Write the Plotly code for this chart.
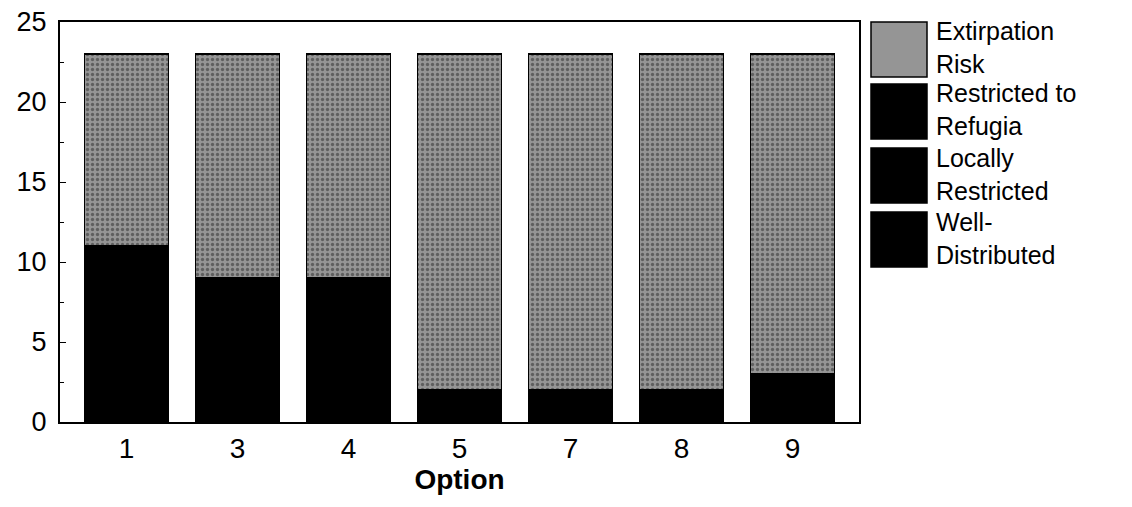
import plotly.graph_objects as go

# options on the x axis
options = ["1", "3", "4", "5", "7", "8", "9"]

# species counts per outcome class (the three lower classes are all drawn black
# in the source and cannot be told apart, so the black height is kept in one)
well_distributed = [11, 9, 9, 2, 2, 2, 3]
locally_restricted = [0, 0, 0, 0, 0, 0, 0]
restricted_to_refugia = [0, 0, 0, 0, 0, 0, 0]
extirpation_risk = [12, 14, 14, 21, 21, 21, 20]

legend_labels = ["Extirpation<br>Risk", "Restricted to<br>Refugia",
                 "Locally<br>Restricted", "Well-<br>Distributed"]

FONT = "Liberation Sans, Arial, sans-serif"
GREY = "#959595"

# the page adds an 8px body margin, so screen px = figure px + 8
OFF = 8
# plot area on screen (px), used to place the hand-drawn legend
PX0, PX1, PY0, PY1 = 60, 859, 22, 422


def px(x):
    return (x - PX0) / (PX1 - PX0)


def py(y):
    return 1 - (y - PY0) / (PY1 - PY0)


fig = go.Figure()
for name, vals, color in [
    ("Well-Distributed", well_distributed, "black"),
    ("Locally Restricted", locally_restricted, "black"),
    ("Restricted to Refugia", restricted_to_refugia, "black"),
    ("Extirpation Risk", extirpation_risk, GREY),
]:
    fig.add_trace(go.Bar(
        x=options, y=vals, name=name,
        marker=dict(color=color, line=dict(color="black", width=1.5),
                    pattern=dict(shape="." if color == GREY else "",
                                 fgcolor="#2a2a2a", bgcolor=GREY,
                                 size=5, solidity=0.35)),
    ))

# legend drawn as big swatches like the original
swatch_colors = [GREY, "black", "black", "black"]
tops = [22, 84, 148, 212]
for lab, col, top in zip(legend_labels, swatch_colors, tops):
    fig.add_shape(type="rect", xref="paper", yref="paper",
                  x0=px(871), x1=px(927), y0=py(top + 55), y1=py(top),
                  fillcolor=col, line=dict(color="black", width=1.5))
    fig.add_annotation(xref="paper", yref="paper", x=px(934), y=py(top + 26),
                       text=lab, showarrow=False,
                       xanchor="left", yanchor="middle", align="left",
                       font=dict(family=FONT, size=25, color="black"))

fig.update_layout(
    barmode="stack",
    bargap=0.243,
    width=1132, height=507,
    margin=dict(l=PX0 - OFF, r=1132 - PX1 + OFF, t=PY0 - OFF,
                b=507 - PY1 + OFF),
    paper_bgcolor="white", plot_bgcolor="white",
    showlegend=False,
    font=dict(family=FONT, size=28, color="black"),
    xaxis=dict(
        range=[-0.6, 6.6], automargin=False,
        title=dict(text="<b>Option</b>", font=dict(size=28), standoff=4),
        showline=True, linecolor="black", linewidth=2, mirror=True,
        ticks="", tickfont=dict(size=28),
    ),
    yaxis=dict(
        range=[0, 25], tickvals=[0, 5, 10, 15, 20, 25], automargin=False,
        showline=True, linecolor="black", linewidth=2, mirror=True,
        showgrid=False, zeroline=False,
        ticks="inside", ticklen=6, tickcolor="black",
        ticklabelstandoff=6, ticklabeloverflow="allow",
        minor=dict(dtick=2.5, ticks="inside", ticklen=4, tickcolor="black"),
        tickfont=dict(size=27),
    ),
)

fig.write_html("out.html")
